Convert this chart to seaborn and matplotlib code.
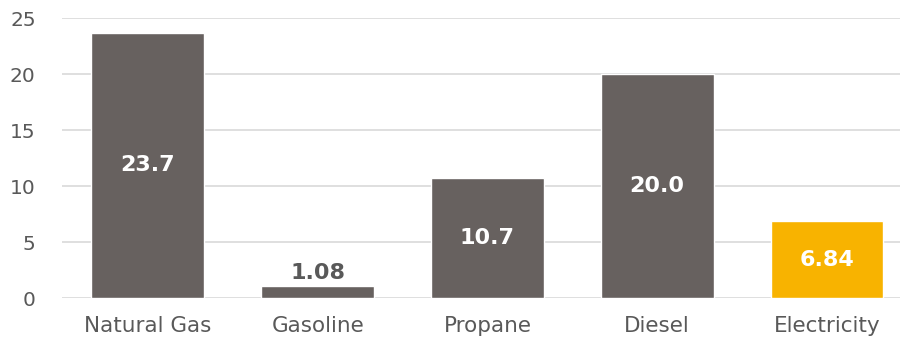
import pandas as pd
import matplotlib.pyplot as plt
import seaborn as sns

# === Data ===
fuels = ["Natural Gas", "Gasoline", "Propane", "Diesel", "Electricity"]
values = [23.7, 1.08, 10.7, 20.0, 6.84]
labels = ["23.7", "1.08", "10.7", "20.0", "6.84"]
bar_colors = ["#67615F", "#67615F", "#67615F", "#67615F", "#F8B300"]

df = pd.DataFrame({"fuel": fuels, "value": values})

# === Style ===
sns.set_style("white")
plt.rcParams["font.family"] = ["DejaVu Sans"]

fig = plt.figure(figsize=(9.03, 3.43), dpi=100)
ax = fig.add_axes([0.0687, 0.131, 0.928, 0.8165])

sns.barplot(data=df, x="fuel", y="value", hue="fuel", palette=bar_colors,
            legend=False, width=0.665, saturation=1, ax=ax)

ax.set_ylim(0, 25)
ax.set_yticks([0, 5, 10, 15, 20, 25])
ax.set_xlim(-0.506, 4.43)
ax.yaxis.grid(True, color="#D9D9D9", linewidth=1.2)
ax.set_axisbelow(True)
for s in ax.spines.values():
    s.set_visible(False)
ax.tick_params(axis="y", length=0, labelsize=14.5, labelcolor="#595959", pad=19)
ax.tick_params(axis="x", length=0, labelsize=15.5, labelcolor="#595959", pad=13)
ax.set_xlabel("")
ax.set_ylabel("")

# value labels
for i, (v, lab) in enumerate(zip(values, labels)):
    if v < 3:
        ax.text(i, v + 0.3, lab, ha="center", va="bottom", fontsize=16,
                fontweight="bold", color="#595959")
    else:
        ax.text(i, v / 2, lab, ha="center", va="center", fontsize=16,
                fontweight="bold", color="white")

plt.savefig("out.png", dpi=100)
plt.close()
